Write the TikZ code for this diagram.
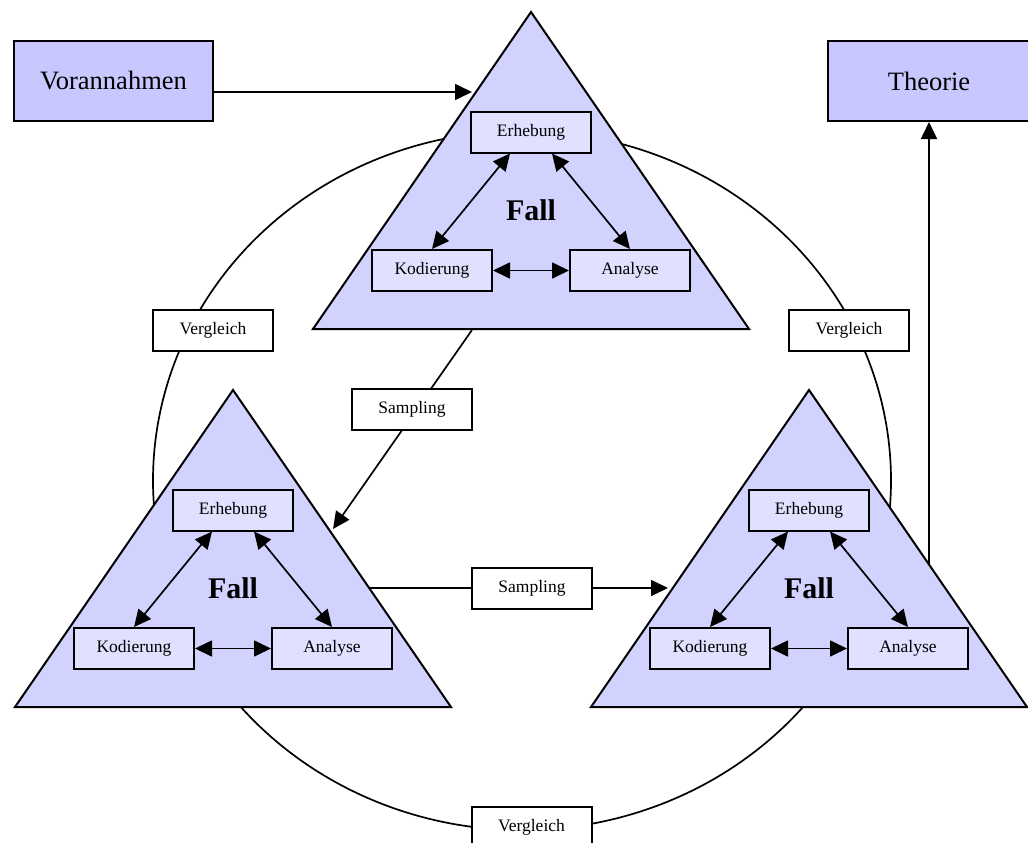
\documentclass[tikz,border=0pt]{standalone}
\usepackage{fontspec}
\setmainfont{Liberation Serif}
\usetikzlibrary{arrows.meta,calc}
\definecolor{outerfill}{RGB}{200,200,255}
\definecolor{casefill}{RGB}{210,210,255}
\definecolor{stepfill}{RGB}{224,224,255}

% One case: a triangle with the three research steps inside it
\newcommand\CaseTriangle[3]{%
  \coordinate (#1-apex) at ({#2},{-#3});
  \coordinate (#1-bl) at ({#2-218},{-#3-317});
  \coordinate (#1-br) at ({#2+218},{-#3-317});
  \draw[casetri] (#1-apex) -- (#1-bl) -- (#1-br) -- cycle;
  \node[stepbox] (#1-erh) at ({#2},{-#3-120}) {Erhebung};
  \node[stepbox] (#1-kod) at ({#2-99},{-#3-258.5}) {Kodierung};
  \node[stepbox] (#1-ana) at ({#2+99},{-#3-258.5}) {Analyse};
  \node[falltext] (#1-fall) at ({#2},{-#3-198.5}) {Fall};
  \draw[darr] ([xshift=-21pt]#1-erh.south) -- (#1-kod.north);
  \draw[darr] ([xshift=21pt]#1-erh.south) -- (#1-ana.north);
  \draw[darr] (#1-kod.east) -- (#1-ana.west);
}

\begin{document}
\begin{tikzpicture}[x=1pt,y=1pt,line width=1.7pt,
  every node/.style={inner sep=0pt},
  outerbox/.style={draw,line width=2pt,fill=outerfill,minimum width=199pt,minimum height=80pt,
    font=\fontsize{26.5}{30}\selectfont},
  stepbox/.style={draw,line width=2pt,fill=stepfill,minimum width=120pt,minimum height=41pt,
    font=\fontsize{17.5}{20}\selectfont},
  labelbox/.style={draw,line width=2pt,fill=white,minimum width=120pt,minimum height=41pt,
    font=\fontsize{17.5}{20}\selectfont},
  casetri/.style={draw,line width=2pt,fill=casefill,line join=miter},
  falltext/.style={font=\fontsize{30}{34}\selectfont\bfseries},
  arr/.style={-{Triangle[length=17pt,width=16pt]}},
  darr/.style={{Triangle[length=17pt,width=16pt]}-{Triangle[length=17pt,width=16pt]}}
]
\clip (0,0) rectangle (1028,-843);

% comparison arcs between the cases (ends are hidden under the triangles)
\coordinate (E) at (522,-480.5);
\draw ($(E)+(95:369pt and 349.5pt)$)
  arc[start angle=95,end angle=190,x radius=369pt,y radius=349.5pt];
\draw ($(E)+(85:369pt and 349.5pt)$)
  arc[start angle=85,end angle=-10,x radius=369pt,y radius=349.5pt];
\draw ($(E)+(200:369pt and 349.5pt)$)
  arc[start angle=200,end angle=340,x radius=369pt,y radius=349.5pt];

% the three cases
\CaseTriangle{T}{531}{12}
\CaseTriangle{L}{233}{390}
\CaseTriangle{R}{809}{390}

% prior assumptions and theory
\node[outerbox] (pre) at (113.5,-81) {Vorannahmen};
\node[outerbox,minimum width=202pt] (theo) at (929,-81) {Theorie};
\coordinate (T-in) at (472,-92);
\draw[arr] ([yshift=-11pt]pre.east) -- (T-in);
\coordinate (R-out) at (929,-564.5);
\draw[arr] (R-out) -- (theo.south);

% sampling from case to case
\coordinate (T-base) at (472,-330);
\coordinate (L-side) at (333,-529);
\draw[arr] (T-base) -- (L-side);
\node[labelbox] (samp1) at (412,-409.5) {Sampling};
\coordinate (L-right) at (370,-588);
\coordinate (R-left) at (668,-588);
\draw[arr] (L-right) -- (R-left);
\node[labelbox] (samp2) at (532,-588.5) {Sampling};

% comparison labels
\node[labelbox] (cmpL) at (213,-330) {Vergleich};
\node[labelbox] (cmpR) at (849,-330) {Vergleich};
\node[labelbox] (cmpB) at (531.5,-827.5) {Vergleich};
\end{tikzpicture}
\end{document}
